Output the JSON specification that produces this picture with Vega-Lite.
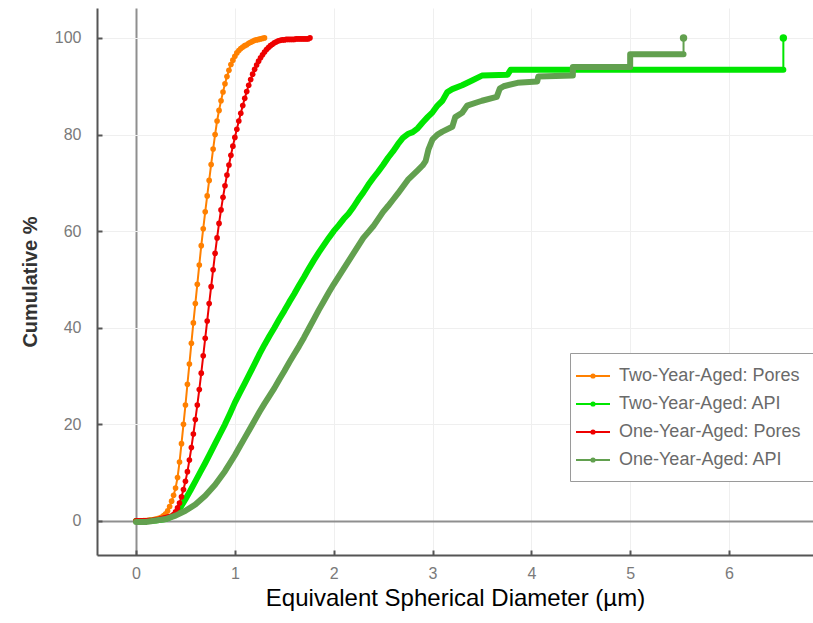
{
  "$schema": "https://vega.github.io/schema/vega-lite/v6.json",
  "autosize": "none",
  "width": 716,
  "height": 547,
  "padding": {"left": 97, "top": 8, "right": 0, "bottom": 68},
  "background": "white",
  "config": {
    "view": {"stroke": null},
    "font": "Liberation Sans",
    "axis": {
      "domainColor": "#555555",
      "domainWidth": 2,
      "tickColor": "#555555",
      "tickWidth": 2,
      "tickSize": -5,
      "labelFont": "Liberation Sans",
      "labelFontSize": 16,
      "labelColor": "#7a7a7a",
      "gridColor": {"condition": {"test": "datum.value === 0", "value": "#8f8f8f"}, "value": "#efefef"},
      "gridWidth": {"condition": {"test": "datum.value === 0", "value": 2}, "value": 1}
    },
    "legend": {
      "orient": "none",
      "legendX": 473,
      "legendY": 345,
      "fillColor": "white",
      "strokeColor": "#9a9a9a",
      "padding": 12,
      "cornerRadius": 0,
      "labelFont": "Liberation Sans",
      "labelFontSize": 18,
      "labelLimit": 0,
      "labelColor": "#6a6a6a",
      "labelOffset": 15,
      "rowPadding": 8,
      "symbolSize": 400,
      "symbolStrokeWidth": 2,
      "symbolOpacity": 1,
      "symbolType": "M-1.7,0H1.7M-0.16,0A0.16,0.16 0 1,0 0.16,0A0.16,0.16 0 1,0 -0.16,0"
    }
  },
  "data": {"values": [
    {"s":"Two-Year-Aged: Pores","d":0,"c":0},{"s":"Two-Year-Aged: Pores","d":0.02,"c":0},{"s":"Two-Year-Aged: Pores","d":0.04,"c":0},{"s":"Two-Year-Aged: Pores","d":0.06,"c":0},{"s":"Two-Year-Aged: Pores","d":0.08,"c":0.1},{"s":"Two-Year-Aged: Pores","d":0.1,"c":0.1},{"s":"Two-Year-Aged: Pores","d":0.12,"c":0.1},{"s":"Two-Year-Aged: Pores","d":0.14,"c":0.2},{"s":"Two-Year-Aged: Pores","d":0.16,"c":0.2},{"s":"Two-Year-Aged: Pores","d":0.18,"c":0.3},{"s":"Two-Year-Aged: Pores","d":0.2,"c":0.4},{"s":"Two-Year-Aged: Pores","d":0.22,"c":0.5},{"s":"Two-Year-Aged: Pores","d":0.24,"c":0.6},{"s":"Two-Year-Aged: Pores","d":0.26,"c":0.8},{"s":"Two-Year-Aged: Pores","d":0.28,"c":1.1},{"s":"Two-Year-Aged: Pores","d":0.3,"c":1.5},{"s":"Two-Year-Aged: Pores","d":0.32,"c":2.1},{"s":"Two-Year-Aged: Pores","d":0.34,"c":3},{"s":"Two-Year-Aged: Pores","d":0.36,"c":4.1},{"s":"Two-Year-Aged: Pores","d":0.38,"c":5.3},{"s":"Two-Year-Aged: Pores","d":0.4,"c":6.8},{"s":"Two-Year-Aged: Pores","d":0.42,"c":9},{"s":"Two-Year-Aged: Pores","d":0.44,"c":12.2},{"s":"Two-Year-Aged: Pores","d":0.46,"c":16},{"s":"Two-Year-Aged: Pores","d":0.48,"c":20},{"s":"Two-Year-Aged: Pores","d":0.5,"c":24},{"s":"Two-Year-Aged: Pores","d":0.52,"c":28.3},{"s":"Two-Year-Aged: Pores","d":0.54,"c":32.5},{"s":"Two-Year-Aged: Pores","d":0.56,"c":36.8},{"s":"Two-Year-Aged: Pores","d":0.58,"c":41},{"s":"Two-Year-Aged: Pores","d":0.6,"c":45},{"s":"Two-Year-Aged: Pores","d":0.62,"c":49},{"s":"Two-Year-Aged: Pores","d":0.64,"c":53},{"s":"Two-Year-Aged: Pores","d":0.66,"c":57},{"s":"Two-Year-Aged: Pores","d":0.68,"c":60.5},{"s":"Two-Year-Aged: Pores","d":0.7,"c":64},{"s":"Two-Year-Aged: Pores","d":0.72,"c":67.3},{"s":"Two-Year-Aged: Pores","d":0.74,"c":70.5},{"s":"Two-Year-Aged: Pores","d":0.76,"c":73.8},{"s":"Two-Year-Aged: Pores","d":0.78,"c":77},{"s":"Two-Year-Aged: Pores","d":0.8,"c":80},{"s":"Two-Year-Aged: Pores","d":0.82,"c":82.8},{"s":"Two-Year-Aged: Pores","d":0.84,"c":85},{"s":"Two-Year-Aged: Pores","d":0.86,"c":87},{"s":"Two-Year-Aged: Pores","d":0.88,"c":88.8},{"s":"Two-Year-Aged: Pores","d":0.9,"c":90.5},{"s":"Two-Year-Aged: Pores","d":0.92,"c":92},{"s":"Two-Year-Aged: Pores","d":0.94,"c":93.3},{"s":"Two-Year-Aged: Pores","d":0.96,"c":94.5},{"s":"Two-Year-Aged: Pores","d":0.98,"c":95.4},{"s":"Two-Year-Aged: Pores","d":1,"c":96.2},{"s":"Two-Year-Aged: Pores","d":1.02,"c":96.9},{"s":"Two-Year-Aged: Pores","d":1.04,"c":97.4},{"s":"Two-Year-Aged: Pores","d":1.06,"c":97.8},{"s":"Two-Year-Aged: Pores","d":1.08,"c":98.1},{"s":"Two-Year-Aged: Pores","d":1.1,"c":98.4},{"s":"Two-Year-Aged: Pores","d":1.12,"c":98.6},{"s":"Two-Year-Aged: Pores","d":1.14,"c":98.9},{"s":"Two-Year-Aged: Pores","d":1.16,"c":99.1},{"s":"Two-Year-Aged: Pores","d":1.18,"c":99.3},{"s":"Two-Year-Aged: Pores","d":1.2,"c":99.5},{"s":"Two-Year-Aged: Pores","d":1.22,"c":99.6},{"s":"Two-Year-Aged: Pores","d":1.24,"c":99.7},{"s":"Two-Year-Aged: Pores","d":1.26,"c":99.8},{"s":"Two-Year-Aged: Pores","d":1.28,"c":99.9},{"s":"Two-Year-Aged: Pores","d":1.3,"c":100},
    {"s":"Two-Year-Aged: API","d":0,"c":0},{"s":"Two-Year-Aged: API","d":0.1,"c":0},{"s":"Two-Year-Aged: API","d":0.2,"c":0.1},{"s":"Two-Year-Aged: API","d":0.3,"c":0.4},{"s":"Two-Year-Aged: API","d":0.35,"c":0.8},{"s":"Two-Year-Aged: API","d":0.41,"c":1.5},{"s":"Two-Year-Aged: API","d":0.45,"c":2.8},{"s":"Two-Year-Aged: API","d":0.5,"c":4.5},{"s":"Two-Year-Aged: API","d":0.55,"c":6.3},{"s":"Two-Year-Aged: API","d":0.6,"c":8.2},{"s":"Two-Year-Aged: API","d":0.65,"c":10.1},{"s":"Two-Year-Aged: API","d":0.7,"c":12},{"s":"Two-Year-Aged: API","d":0.75,"c":14},{"s":"Two-Year-Aged: API","d":0.8,"c":16},{"s":"Two-Year-Aged: API","d":0.85,"c":18},{"s":"Two-Year-Aged: API","d":0.9,"c":20},{"s":"Two-Year-Aged: API","d":0.95,"c":22.2},{"s":"Two-Year-Aged: API","d":1,"c":24.5},{"s":"Two-Year-Aged: API","d":1.05,"c":26.5},{"s":"Two-Year-Aged: API","d":1.1,"c":28.5},{"s":"Two-Year-Aged: API","d":1.15,"c":30.5},{"s":"Two-Year-Aged: API","d":1.2,"c":32.5},{"s":"Two-Year-Aged: API","d":1.25,"c":34.6},{"s":"Two-Year-Aged: API","d":1.3,"c":36.5},{"s":"Two-Year-Aged: API","d":1.35,"c":38.3},{"s":"Two-Year-Aged: API","d":1.4,"c":40},{"s":"Two-Year-Aged: API","d":1.45,"c":41.8},{"s":"Two-Year-Aged: API","d":1.5,"c":43.5},{"s":"Two-Year-Aged: API","d":1.55,"c":45.3},{"s":"Two-Year-Aged: API","d":1.6,"c":47},{"s":"Two-Year-Aged: API","d":1.65,"c":48.8},{"s":"Two-Year-Aged: API","d":1.7,"c":50.5},{"s":"Two-Year-Aged: API","d":1.75,"c":52.3},{"s":"Two-Year-Aged: API","d":1.8,"c":54},{"s":"Two-Year-Aged: API","d":1.85,"c":55.6},{"s":"Two-Year-Aged: API","d":1.9,"c":57.1},{"s":"Two-Year-Aged: API","d":1.95,"c":58.6},{"s":"Two-Year-Aged: API","d":2,"c":60},{"s":"Two-Year-Aged: API","d":2.05,"c":61.2},{"s":"Two-Year-Aged: API","d":2.1,"c":62.5},{"s":"Two-Year-Aged: API","d":2.15,"c":63.6},{"s":"Two-Year-Aged: API","d":2.2,"c":65},{"s":"Two-Year-Aged: API","d":2.25,"c":66.6},{"s":"Two-Year-Aged: API","d":2.3,"c":68},{"s":"Two-Year-Aged: API","d":2.35,"c":69.6},{"s":"Two-Year-Aged: API","d":2.4,"c":71},{"s":"Two-Year-Aged: API","d":2.45,"c":72.3},{"s":"Two-Year-Aged: API","d":2.5,"c":73.7},{"s":"Two-Year-Aged: API","d":2.55,"c":75.2},{"s":"Two-Year-Aged: API","d":2.6,"c":76.5},{"s":"Two-Year-Aged: API","d":2.65,"c":78},{"s":"Two-Year-Aged: API","d":2.7,"c":79.3},{"s":"Two-Year-Aged: API","d":2.75,"c":80.1},{"s":"Two-Year-Aged: API","d":2.8,"c":80.5},{"s":"Two-Year-Aged: API","d":2.85,"c":81.3},{"s":"Two-Year-Aged: API","d":2.9,"c":82.5},{"s":"Two-Year-Aged: API","d":2.95,"c":83.6},{"s":"Two-Year-Aged: API","d":3,"c":84.6},{"s":"Two-Year-Aged: API","d":3.05,"c":86},{"s":"Two-Year-Aged: API","d":3.1,"c":87},{"s":"Two-Year-Aged: API","d":3.15,"c":88.8},{"s":"Two-Year-Aged: API","d":3.2,"c":89.4},{"s":"Two-Year-Aged: API","d":3.3,"c":90.2},{"s":"Two-Year-Aged: API","d":3.4,"c":91.2},{"s":"Two-Year-Aged: API","d":3.5,"c":92.2},{"s":"Two-Year-Aged: API","d":3.76,"c":92.4},{"s":"Two-Year-Aged: API","d":3.79,"c":93.4},{"s":"Two-Year-Aged: API","d":6.55,"c":93.4},{"s":"Two-Year-Aged: API","d":6.55,"c":100},
    {"s":"One-Year-Aged: Pores","d":0,"c":0},{"s":"One-Year-Aged: Pores","d":0.02,"c":0},{"s":"One-Year-Aged: Pores","d":0.04,"c":0},{"s":"One-Year-Aged: Pores","d":0.06,"c":0},{"s":"One-Year-Aged: Pores","d":0.08,"c":0},{"s":"One-Year-Aged: Pores","d":0.1,"c":0},{"s":"One-Year-Aged: Pores","d":0.12,"c":0.1},{"s":"One-Year-Aged: Pores","d":0.14,"c":0.1},{"s":"One-Year-Aged: Pores","d":0.16,"c":0.1},{"s":"One-Year-Aged: Pores","d":0.18,"c":0.2},{"s":"One-Year-Aged: Pores","d":0.2,"c":0.2},{"s":"One-Year-Aged: Pores","d":0.22,"c":0.3},{"s":"One-Year-Aged: Pores","d":0.24,"c":0.4},{"s":"One-Year-Aged: Pores","d":0.26,"c":0.5},{"s":"One-Year-Aged: Pores","d":0.28,"c":0.6},{"s":"One-Year-Aged: Pores","d":0.3,"c":0.7},{"s":"One-Year-Aged: Pores","d":0.32,"c":0.8},{"s":"One-Year-Aged: Pores","d":0.34,"c":0.9},{"s":"One-Year-Aged: Pores","d":0.36,"c":1},{"s":"One-Year-Aged: Pores","d":0.38,"c":1.3},{"s":"One-Year-Aged: Pores","d":0.4,"c":1.9},{"s":"One-Year-Aged: Pores","d":0.42,"c":2.7},{"s":"One-Year-Aged: Pores","d":0.44,"c":3.7},{"s":"One-Year-Aged: Pores","d":0.46,"c":5},{"s":"One-Year-Aged: Pores","d":0.48,"c":6.5},{"s":"One-Year-Aged: Pores","d":0.5,"c":8.2},{"s":"One-Year-Aged: Pores","d":0.52,"c":10.2},{"s":"One-Year-Aged: Pores","d":0.54,"c":12.6},{"s":"One-Year-Aged: Pores","d":0.56,"c":15.2},{"s":"One-Year-Aged: Pores","d":0.58,"c":18},{"s":"One-Year-Aged: Pores","d":0.6,"c":21},{"s":"One-Year-Aged: Pores","d":0.62,"c":24},{"s":"One-Year-Aged: Pores","d":0.64,"c":27.2},{"s":"One-Year-Aged: Pores","d":0.66,"c":30.6},{"s":"One-Year-Aged: Pores","d":0.68,"c":34.2},{"s":"One-Year-Aged: Pores","d":0.7,"c":37.8},{"s":"One-Year-Aged: Pores","d":0.72,"c":41.4},{"s":"One-Year-Aged: Pores","d":0.74,"c":45},{"s":"One-Year-Aged: Pores","d":0.76,"c":48.5},{"s":"One-Year-Aged: Pores","d":0.78,"c":52},{"s":"One-Year-Aged: Pores","d":0.8,"c":55.4},{"s":"One-Year-Aged: Pores","d":0.82,"c":58.6},{"s":"One-Year-Aged: Pores","d":0.84,"c":61.6},{"s":"One-Year-Aged: Pores","d":0.86,"c":64.4},{"s":"One-Year-Aged: Pores","d":0.88,"c":67},{"s":"One-Year-Aged: Pores","d":0.9,"c":69.4},{"s":"One-Year-Aged: Pores","d":0.92,"c":71.6},{"s":"One-Year-Aged: Pores","d":0.94,"c":73.7},{"s":"One-Year-Aged: Pores","d":0.96,"c":75.7},{"s":"One-Year-Aged: Pores","d":0.98,"c":77.6},{"s":"One-Year-Aged: Pores","d":1,"c":79.4},{"s":"One-Year-Aged: Pores","d":1.02,"c":81.1},{"s":"One-Year-Aged: Pores","d":1.04,"c":82.8},{"s":"One-Year-Aged: Pores","d":1.06,"c":84.4},{"s":"One-Year-Aged: Pores","d":1.08,"c":86},{"s":"One-Year-Aged: Pores","d":1.1,"c":87.5},{"s":"One-Year-Aged: Pores","d":1.12,"c":88.9},{"s":"One-Year-Aged: Pores","d":1.14,"c":90.2},{"s":"One-Year-Aged: Pores","d":1.16,"c":91.4},{"s":"One-Year-Aged: Pores","d":1.18,"c":92.5},{"s":"One-Year-Aged: Pores","d":1.2,"c":93.5},{"s":"One-Year-Aged: Pores","d":1.22,"c":94.4},{"s":"One-Year-Aged: Pores","d":1.24,"c":95.2},{"s":"One-Year-Aged: Pores","d":1.26,"c":95.9},{"s":"One-Year-Aged: Pores","d":1.28,"c":96.5},{"s":"One-Year-Aged: Pores","d":1.3,"c":97.1},{"s":"One-Year-Aged: Pores","d":1.32,"c":97.6},{"s":"One-Year-Aged: Pores","d":1.34,"c":98},{"s":"One-Year-Aged: Pores","d":1.36,"c":98.4},{"s":"One-Year-Aged: Pores","d":1.38,"c":98.7},{"s":"One-Year-Aged: Pores","d":1.4,"c":99},{"s":"One-Year-Aged: Pores","d":1.42,"c":99.2},{"s":"One-Year-Aged: Pores","d":1.44,"c":99.4},{"s":"One-Year-Aged: Pores","d":1.46,"c":99.5},{"s":"One-Year-Aged: Pores","d":1.48,"c":99.6},{"s":"One-Year-Aged: Pores","d":1.5,"c":99.6},{"s":"One-Year-Aged: Pores","d":1.52,"c":99.7},{"s":"One-Year-Aged: Pores","d":1.54,"c":99.7},{"s":"One-Year-Aged: Pores","d":1.56,"c":99.7},{"s":"One-Year-Aged: Pores","d":1.58,"c":99.7},{"s":"One-Year-Aged: Pores","d":1.6,"c":99.7},{"s":"One-Year-Aged: Pores","d":1.62,"c":99.8},{"s":"One-Year-Aged: Pores","d":1.64,"c":99.8},{"s":"One-Year-Aged: Pores","d":1.66,"c":99.8},{"s":"One-Year-Aged: Pores","d":1.68,"c":99.8},{"s":"One-Year-Aged: Pores","d":1.7,"c":99.8},{"s":"One-Year-Aged: Pores","d":1.72,"c":99.8},{"s":"One-Year-Aged: Pores","d":1.74,"c":99.8},{"s":"One-Year-Aged: Pores","d":1.76,"c":100},
    {"s":"One-Year-Aged: API","d":0,"c":-0.2},{"s":"One-Year-Aged: API","d":0.1,"c":-0.2},{"s":"One-Year-Aged: API","d":0.2,"c":0.1},{"s":"One-Year-Aged: API","d":0.3,"c":0.4},{"s":"One-Year-Aged: API","d":0.4,"c":1.1},{"s":"One-Year-Aged: API","d":0.5,"c":2.1},{"s":"One-Year-Aged: API","d":0.6,"c":3.4},{"s":"One-Year-Aged: API","d":0.7,"c":5.2},{"s":"One-Year-Aged: API","d":0.8,"c":7.5},{"s":"One-Year-Aged: API","d":0.9,"c":10.3},{"s":"One-Year-Aged: API","d":1,"c":13.6},{"s":"One-Year-Aged: API","d":1.05,"c":15.4},{"s":"One-Year-Aged: API","d":1.1,"c":17.2},{"s":"One-Year-Aged: API","d":1.15,"c":19},{"s":"One-Year-Aged: API","d":1.2,"c":20.8},{"s":"One-Year-Aged: API","d":1.25,"c":22.6},{"s":"One-Year-Aged: API","d":1.3,"c":24.3},{"s":"One-Year-Aged: API","d":1.35,"c":25.9},{"s":"One-Year-Aged: API","d":1.4,"c":27.5},{"s":"One-Year-Aged: API","d":1.45,"c":29.3},{"s":"One-Year-Aged: API","d":1.5,"c":31},{"s":"One-Year-Aged: API","d":1.55,"c":32.8},{"s":"One-Year-Aged: API","d":1.6,"c":34.5},{"s":"One-Year-Aged: API","d":1.65,"c":36.2},{"s":"One-Year-Aged: API","d":1.7,"c":38},{"s":"One-Year-Aged: API","d":1.75,"c":39.9},{"s":"One-Year-Aged: API","d":1.8,"c":41.8},{"s":"One-Year-Aged: API","d":1.85,"c":43.7},{"s":"One-Year-Aged: API","d":1.9,"c":45.5},{"s":"One-Year-Aged: API","d":1.95,"c":47.3},{"s":"One-Year-Aged: API","d":2,"c":49},{"s":"One-Year-Aged: API","d":2.05,"c":50.6},{"s":"One-Year-Aged: API","d":2.1,"c":52.2},{"s":"One-Year-Aged: API","d":2.15,"c":53.8},{"s":"One-Year-Aged: API","d":2.2,"c":55.4},{"s":"One-Year-Aged: API","d":2.25,"c":57},{"s":"One-Year-Aged: API","d":2.3,"c":58.6},{"s":"One-Year-Aged: API","d":2.35,"c":59.8},{"s":"One-Year-Aged: API","d":2.4,"c":61},{"s":"One-Year-Aged: API","d":2.45,"c":62.5},{"s":"One-Year-Aged: API","d":2.5,"c":64},{"s":"One-Year-Aged: API","d":2.55,"c":65.2},{"s":"One-Year-Aged: API","d":2.6,"c":66.5},{"s":"One-Year-Aged: API","d":2.65,"c":67.8},{"s":"One-Year-Aged: API","d":2.7,"c":69.2},{"s":"One-Year-Aged: API","d":2.75,"c":70.6},{"s":"One-Year-Aged: API","d":2.8,"c":71.6},{"s":"One-Year-Aged: API","d":2.85,"c":72.6},{"s":"One-Year-Aged: API","d":2.9,"c":73.6},{"s":"One-Year-Aged: API","d":2.93,"c":74.5},{"s":"One-Year-Aged: API","d":2.96,"c":77},{"s":"One-Year-Aged: API","d":3,"c":79},{"s":"One-Year-Aged: API","d":3.05,"c":80},{"s":"One-Year-Aged: API","d":3.1,"c":80.6},{"s":"One-Year-Aged: API","d":3.2,"c":81.6},{"s":"One-Year-Aged: API","d":3.23,"c":83.6},{"s":"One-Year-Aged: API","d":3.3,"c":84.5},{"s":"One-Year-Aged: API","d":3.35,"c":86},{"s":"One-Year-Aged: API","d":3.5,"c":87},{"s":"One-Year-Aged: API","d":3.65,"c":87.8},{"s":"One-Year-Aged: API","d":3.68,"c":89.5},{"s":"One-Year-Aged: API","d":3.72,"c":90},{"s":"One-Year-Aged: API","d":3.86,"c":90.7},{"s":"One-Year-Aged: API","d":4.06,"c":91},{"s":"One-Year-Aged: API","d":4.07,"c":92},{"s":"One-Year-Aged: API","d":4.42,"c":92.2},{"s":"One-Year-Aged: API","d":4.42,"c":94},{"s":"One-Year-Aged: API","d":5,"c":94},{"s":"One-Year-Aged: API","d":5,"c":96.6},{"s":"One-Year-Aged: API","d":5.54,"c":96.6},{"s":"One-Year-Aged: API","d":5.54,"c":100}
  ]},
  "encoding": {
    "x": {
      "field": "d", "type": "quantitative",
      "scale": {"domain": [-0.395, 6.85], "nice": false, "zero": false},
      "axis": {"values": [0, 1, 2, 3, 4, 5, 6], "labelPadding": 15, "title": "Equivalent Spherical Diameter (µm)", "titleFontSize": 24, "titleFontWeight": "normal", "titleColor": "#000000", "titlePadding": 5, "titleFont": "Liberation Sans"}
    },
    "y": {
      "field": "c", "type": "quantitative",
      "scale": {"domain": [-7.05, 106.2], "nice": false, "zero": false},
      "axis": {"values": [0, 20, 40, 60, 80, 100], "labelPadding": 21, "title": "Cumulative %", "titleFontSize": 20, "titleFontWeight": "bold", "titleColor": "#333333", "titlePadding": 14, "titleFont": "Liberation Sans"}
    },
    "color": {
      "field": "s", "type": "nominal",
      "scale": {
        "domain": ["Two-Year-Aged: Pores", "Two-Year-Aged: API", "One-Year-Aged: Pores", "One-Year-Aged: API"],
        "range": ["#ff8000", "#00e600", "#ee0000", "#62a04f"]
      },
      "legend": {
        "title": null,
        "encode": {"symbols": {"update": {"fill": {"scale": "color", "field": "value"}, "stroke": {"scale": "color", "field": "value"}}}}
      }
    },
    "order": {"value": null}
  },
  "layer": [
    {
      "transform": [{"filter": "datum.s === 'Two-Year-Aged: Pores'"}],
      "mark": {"type": "line", "strokeWidth": 2, "point": {"filled": true, "size": 32}}
    },
    {
      "transform": [{"filter": "datum.s === 'Two-Year-Aged: API' && datum.c < 100"}],
      "mark": {"type": "line", "strokeWidth": 6, "strokeCap": "round", "strokeJoin": "round"}
    },
    {
      "transform": [{"filter": "datum.s === 'Two-Year-Aged: API'"}],
      "mark": {"type": "line", "strokeWidth": 2}
    },
    {
      "transform": [{"filter": "datum.s === 'Two-Year-Aged: API' && datum.c >= 100"}],
      "mark": {"type": "point", "filled": true, "size": 55, "opacity": 1}
    },
    {
      "transform": [{"filter": "datum.s === 'One-Year-Aged: Pores'"}],
      "mark": {"type": "line", "strokeWidth": 2, "point": {"filled": true, "size": 32}}
    },
    {
      "transform": [{"filter": "datum.s === 'One-Year-Aged: API' && datum.c < 100"}],
      "mark": {"type": "line", "strokeWidth": 6, "strokeCap": "round", "strokeJoin": "round"}
    },
    {
      "transform": [{"filter": "datum.s === 'One-Year-Aged: API'"}],
      "mark": {"type": "line", "strokeWidth": 2}
    },
    {
      "transform": [{"filter": "datum.s === 'One-Year-Aged: API' && datum.c >= 100"}],
      "mark": {"type": "point", "filled": true, "size": 55, "opacity": 1}
    }
  ]
}
